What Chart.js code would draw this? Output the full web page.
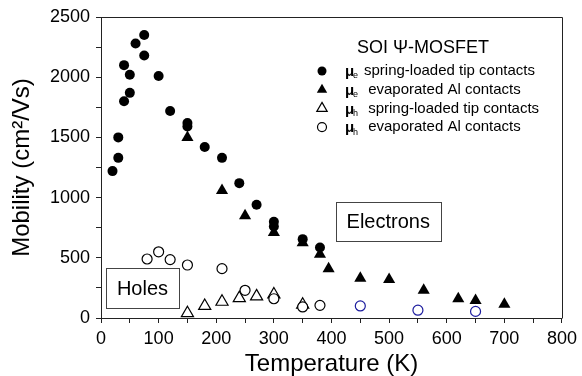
<!DOCTYPE html>
<html>
<head>
<meta charset="utf-8">
<script src="https://cdn.jsdelivr.net/npm/chart.js@4.4.1/dist/chart.umd.min.js"></script>
<style>
  html, body { margin: 0; padding: 0; background: #fff; }
  #chart { display: block; }
</style>
</head>
<body>
<canvas id="chart" width="582" height="376"></canvas>
<script>
// mu_e, spring-loaded tip contacts (filled circles)
const eSpringT  = [20, 30, 30, 40, 40, 50, 50, 60, 75, 75, 100, 120, 150, 150, 180, 210, 240, 270, 300, 300, 350, 380];
const eSpringMu = [1220, 1330, 1500, 1800, 2100, 1870, 2020, 2280, 2350, 2180, 2010, 1720, 1620, 1590, 1420, 1330, 1120, 940, 800, 760, 655, 585];

// mu_e, evaporated Al contacts (filled triangles)
const eEvapT  = [150, 210, 250, 300, 350, 380, 395, 450, 500, 560, 620, 650, 700];
const eEvapMu = [1500, 1060, 850, 710, 625, 530, 410, 330, 320, 230, 160, 145, 115];

// mu_h, spring-loaded tip contacts (open triangles)
const hSpringT  = [150, 180, 210, 240, 270, 300, 350];
const hSpringMu = [40, 100, 135, 165, 180, 195, 110];

// mu_h, evaporated Al contacts (open circles, last three drawn in blue)
const hEvapT  = [80, 100, 120, 150, 210, 250, 300, 350, 380, 450, 550, 650];
const hEvapMu = [490, 550, 485, 440, 410, 230, 160, 92, 105, 100, 65, 55];

const xTicksMin = 0, xTicksMax = 800, xStep = 50, xLabelEvery = 100;
const yTicksMin = 0, yTicksMax = 2500, yStep = 250, yLabelEvery = 500;

const FONT = "'Liberation Sans', Arial, Helvetica, sans-serif";
const BLUE = '#1c1c9e';

function toPoints(xs, ys) {
    return xs.map((x, i) => ({ x: x, y: ys[i] }));
}

const hEvapColors = hEvapT.map(t => t >= 450 ? BLUE : '#000');

const datasets = [
    { label: 'mu_e spring-loaded tip contacts', data: toPoints(eSpringT, eSpringMu),
      pointStyle: 'circle', pointRadius: 5, backgroundColor: '#000', borderColor: '#000', borderWidth: 0 },
    { label: 'mu_e evaporated Al contacts', data: toPoints(eEvapT, eEvapMu),
      pointStyle: 'triangle', pointRadius: 7, backgroundColor: '#000', borderColor: '#000', borderWidth: 0 },
    { label: 'mu_h evaporated Al contacts', data: toPoints(hEvapT, hEvapMu),
      pointStyle: 'circle', pointRadius: 5, backgroundColor: '#fff', borderColor: hEvapColors, borderWidth: 1.2 },
    { label: 'mu_h spring-loaded tip contacts', data: toPoints(hSpringT, hSpringMu),
      pointStyle: 'triangle', pointRadius: 7, backgroundColor: '#fff', borderColor: '#000', borderWidth: 1.2 }
];

// legend rows: dataset index, subscript, text
const legendRows = [
    { ds: 0, sub: 'e', text: 'spring-loaded tip contacts', radius: 4.5 },
    { ds: 1, sub: 'e', text: ' evaporated Al contacts', radius: 6 },
    { ds: 3, sub: 'h', text: ' spring-loaded tip contacts', radius: 6 },
    { ds: 2, sub: 'h', text: ' evaporated Al contacts', radius: 4.5 }
];

const labelBoxes = [
    { text: 'Holes', x0: 9, x1: 135, y0: 83, y1: 415 },
    { text: 'Electrons', x0: 407, x1: 590, y0: 640, y1: 963 }
];

function drawMarker(ctx, style, r, x, y) {
    ctx.beginPath();
    if (style === 'triangle') {
        ctx.moveTo(x, y - r);
        ctx.lineTo(x + r * 0.866, y + r * 0.5);
        ctx.lineTo(x - r * 0.866, y + r * 0.5);
        ctx.closePath();
    } else {
        ctx.arc(x, y, r, 0, Math.PI * 2);
    }
    ctx.fill();
}

const extrasPlugin = {
    id: 'extras',
    afterDraw(chart) {
        const ctx = chart.ctx;
        const a = chart.chartArea;
        const xs = chart.scales.x, ys = chart.scales.y;
        ctx.save();

        // top and right frame lines
        ctx.strokeStyle = '#222';
        ctx.lineWidth = 1;
        ctx.beginPath();
        ctx.moveTo(Math.round(a.left) + 0.5, Math.round(a.top) + 0.5);
        ctx.lineTo(Math.round(a.right) + 0.5, Math.round(a.top) + 0.5);
        ctx.lineTo(Math.round(a.right) + 0.5, Math.round(a.bottom) + 0.5);
        ctx.stroke();

        // label boxes
        labelBoxes.forEach(b => {
            const l = xs.getPixelForValue(b.x0), r = xs.getPixelForValue(b.x1);
            const t = ys.getPixelForValue(b.y1), btm = ys.getPixelForValue(b.y0);
            ctx.strokeStyle = '#444';
            ctx.lineWidth = 1;
            ctx.strokeRect(Math.round(l) + 0.5, Math.round(t) + 0.5, Math.round(r - l), Math.round(btm - t));
            ctx.fillStyle = '#000';
            ctx.font = '20px ' + FONT;
            ctx.textAlign = 'center';
            ctx.textBaseline = 'middle';
            ctx.fillText(b.text, (l + r) / 2, (t + btm) / 2 + 1);
        });

        // legend
        const mx = a.left + 221;
        const tx = a.left + 244;
        ctx.fillStyle = '#000';
        ctx.textBaseline = 'middle';
        ctx.textAlign = 'center';
        ctx.font = '18px ' + FONT;
        ctx.fillText('SOI \u03A8-MOSFET', a.left + 322, a.top + 31);

        legendRows.forEach((row, i) => {
            const y = a.top + 54 + i * 18.7;
            const ds = chart.data.datasets[row.ds];
            ctx.fillStyle = ds.pointStyle === 'triangle' && ds.backgroundColor === '#fff' ? '#fff' : ds.backgroundColor;
            const open = ds.backgroundColor === '#fff';
            ctx.fillStyle = open ? '#fff' : '#000';
            drawMarker(ctx, ds.pointStyle, row.radius, mx, y);
            if (open) {
                ctx.strokeStyle = '#000';
                ctx.lineWidth = 1.2;
                ctx.stroke();
            }
            ctx.fillStyle = '#000';
            ctx.textAlign = 'left';
            ctx.font = 'bold 15px ' + FONT;
            ctx.fillText('\u03BC', tx, y + 1);
            ctx.font = '9px ' + FONT;
            ctx.fillText(row.sub, tx + 8, y + 5);
            ctx.font = '15px ' + FONT;
            ctx.fillText(row.text, tx + 19, y);
        });
        ctx.restore();
    }
};

new Chart(document.getElementById('chart'), {
    type: 'scatter',
    data: { datasets: datasets },
    options: {
        responsive: false,
        animation: false,
        layout: { padding: { top: 17, right: 19, left: 0, bottom: 0 } },
        plugins: {
            legend: { display: false },
            tooltip: { enabled: false }
        },
        scales: {
            x: {
                type: 'linear',
                min: xTicksMin,
                max: xTicksMax,
                afterFit: s => { s.height = 58; },
                grid: { drawOnChartArea: false, drawTicks: true, tickLength: 5, color: '#222' },
                border: { display: true, color: '#222', width: 1 },
                ticks: {
                    stepSize: xStep,
                    autoSkip: false,
                    maxRotation: 0,
                    padding: 5,
                    color: '#000',
                    font: { family: FONT, size: 18 },
                    callback: v => (v % xLabelEvery === 0 ? v : '')
                },
                title: {
                    display: true,
                    text: 'Temperature (K)',
                    color: '#000',
                    font: { family: FONT, size: 24, lineHeight: 1.0 },
                    padding: { top: 0, bottom: 0 }
                }
            },
            y: {
                type: 'linear',
                min: yTicksMin,
                max: yTicksMax,
                afterFit: s => { s.width = 101; },
                grid: { drawOnChartArea: false, drawTicks: true, tickLength: 5, color: '#222' },
                border: { display: true, color: '#222', width: 1 },
                ticks: {
                    stepSize: yStep,
                    autoSkip: false,
                    padding: 6,
                    color: '#000',
                    font: { family: FONT, size: 18 },
                    callback: v => (v % yLabelEvery === 0 ? v : '')
                },
                title: {
                    display: true,
                    text: 'Mobility (cm\u00B2/Vs)',
                    color: '#000',
                    font: { family: FONT, size: 24, lineHeight: 1.2 },
                    padding: { top: 8, bottom: 0 }
                }
            }
        }
    },
    plugins: [extrasPlugin]
});
</script>
</body>
</html>
